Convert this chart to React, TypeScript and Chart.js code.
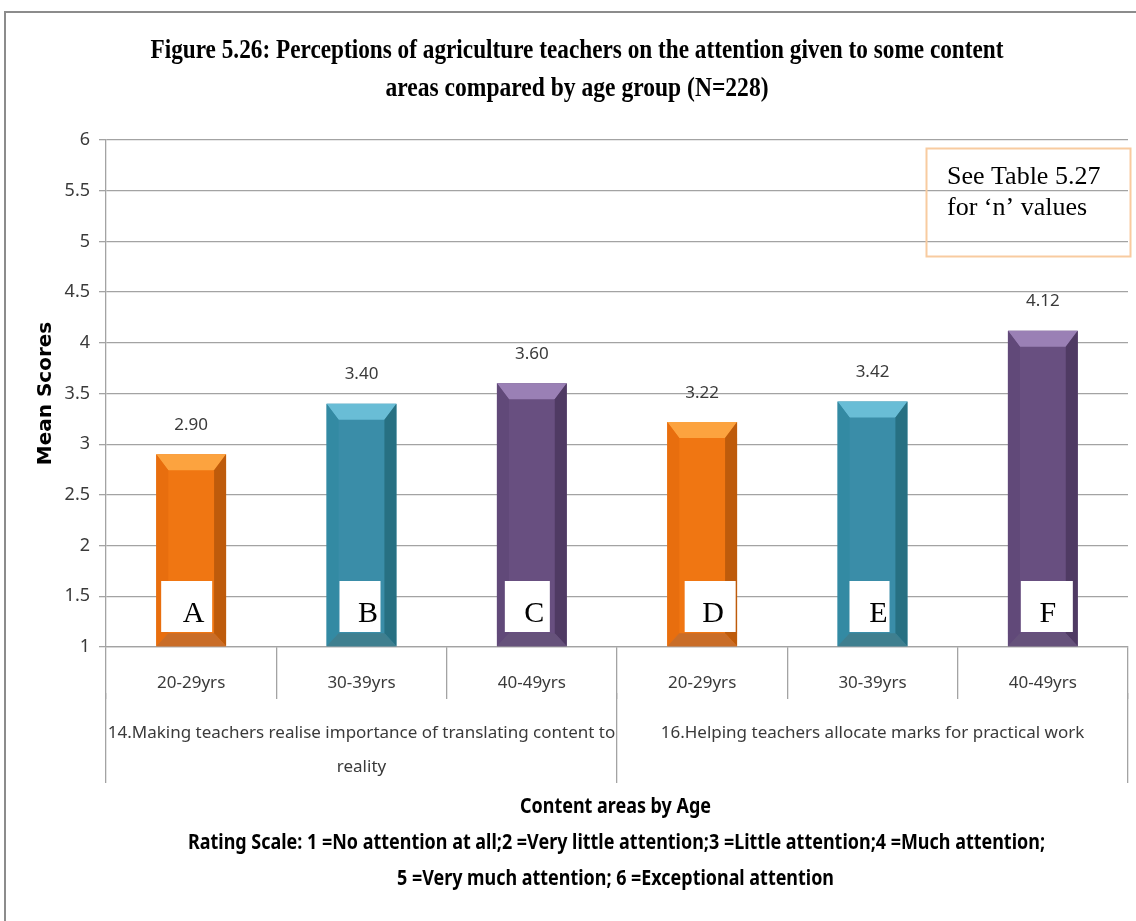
import React, { useEffect, useRef } from 'react';
import { Chart, registerables } from 'chart.js';

Chart.register(...registerables);

// ---------- data ----------
const ageLabels = ['20-29yrs', '30-39yrs', '40-49yrs', '20-29yrs', '30-39yrs', '40-49yrs'];
const groupLabels = [
  ['14.Making teachers realise importance of translating content to', 'reality'],
  ['16.Helping teachers allocate marks for practical work'],
];
const meanScores = [2.9, 3.4, 3.6, 3.22, 3.42, 4.12];
const barLetters = ['A', 'B', 'C', 'D', 'E', 'F'];
const titleLines = [
  'Figure 5.26: Perceptions of agriculture teachers on the attention given to some content',
  'areas compared by age group (N=228)',
];
const footerLines = [
  'Content areas by Age',
  'Rating Scale: 1 =No attention at all;2 =Very little attention;3 =Little attention;4 =Much attention;',
  '5 =Very much attention; 6 =Exceptional attention',
];
const noteLines = ['See Table 5.27', 'for \u2018n\u2019 values'];
const yAxisTitle = 'Mean Scores';
const yMin = 1;
const yMax = 6;
const yStep = 0.5;

// ---------- styles ----------
const palettes = [
  { main: '#F07612', top: '#FCA33F', left: '#E86E0E', right: '#BE5B0B', bottom: '#C96D28' },
  { main: '#3A8DA8', top: '#69BDD6', left: '#338AA3', right: '#277082', bottom: '#3F7F8F' },
  { main: '#684F80', top: '#9A80B5', left: '#614979', right: '#4F3A63', bottom: '#66527B' },
];
const sans = "'Noto Sans', 'Open Sans', sans-serif";
const serif = "'Liberation Serif', 'Times New Roman', serif";
const gridColor = '#A3A3A3';
const textColor = '#3A3A3A';

const titleLayout = [
  { width: 853, cx: 577, base: 58 },
  { width: 383, cx: 577, base: 96 },
];
const footerLayout = [
  { width: 191, cx: 615.5, base: 813 },
  { width: 857, cx: 616.5, base: 849 },
  { width: 437, cx: 615.5, base: 885 },
];
const letterBoxLayout = [
  { dx: -4.5, w: 51, tx: 7 },
  { dx: -1.5, w: 41, tx: 8 },
  { dx: -4.5, w: 45, tx: 7 },
  { dx: 8, w: 51, tx: 3 },
  { dx: -3, w: 40, tx: 9 },
  { dx: 4, w: 52, tx: 1 },
];

function fitText(ctx: CanvasRenderingContext2D, text: string, cx: number, base: number, width: number) {
  const m = ctx.measureText(text).width;
  const s = width / m;
  ctx.save();
  ctx.translate(cx, base);
  ctx.scale(s, 1);
  ctx.textAlign = 'center';
  ctx.textBaseline = 'alphabetic';
  ctx.fillText(text, 0, 0);
  ctx.restore();
}

const decorPlugin = {
  id: 'decor',
  afterDatasetsDraw(chart: any) {
    const ctx: CanvasRenderingContext2D = chart.ctx;
    const meta = chart.getDatasetMeta(0);
    const area = chart.chartArea;
    meta.data.forEach((bar: any, i: number) => {
      const { x, y, base, width } = bar.getProps(['x', 'y', 'base', 'width'], true);
      const p = palettes[i % palettes.length];
      const l = x - width / 2;
      const r = x + width / 2;
      const t = y;
      const b = Math.min(base, area.bottom);
      const bs = 12;
      const bt = 16;
      const bb = 13;
      const poly = (pts: number[][], color: string) => {
        ctx.beginPath();
        ctx.moveTo(pts[0][0], pts[0][1]);
        for (let k = 1; k < pts.length; k++) ctx.lineTo(pts[k][0], pts[k][1]);
        ctx.closePath();
        ctx.fillStyle = color;
        ctx.fill();
      };
      ctx.save();
      poly([[l, t], [r, t], [r - bs, t + bt], [l + bs, t + bt]], p.top);
      poly([[r, t], [r, b], [r - bs, b - bb], [r - bs, t + bt]], p.right);
      poly([[l, t], [l + bs, t + bt], [l + bs, b - bb], [l, b]], p.left);
      poly([[l, b], [l + bs, b - bb], [r - bs, b - bb], [r, b]], p.bottom);
      ctx.restore();

      // value label
      ctx.save();
      ctx.font = `17px ${sans}`;
      ctx.fillStyle = textColor;
      ctx.textAlign = 'center';
      ctx.textBaseline = 'middle';
      ctx.fillText(meanScores[i].toFixed(2), x, t - 29);
      ctx.restore();

      // letter box
      const lb = letterBoxLayout[i];
      const bw = lb.w;
      const bx = x + lb.dx - bw / 2;
      const by = area.bottom - 66;
      ctx.save();
      ctx.fillStyle = '#FFFFFF';
      ctx.fillRect(bx, by, bw, 51);
      ctx.font = `30px ${serif}`;
      ctx.fillStyle = '#000000';
      ctx.textAlign = 'center';
      ctx.textBaseline = 'alphabetic';
      ctx.fillText(barLetters[i], bx + bw / 2 + lb.tx, by + 41);
      ctx.restore();
    });
  },
  afterDraw(chart: any) {
    const ctx: CanvasRenderingContext2D = chart.ctx;
    ctx.save();
    // outer frame
    ctx.strokeStyle = '#8C8C8C';
    ctx.lineWidth = 2;
    ctx.strokeRect(5, 12, 1200, 1000);
    // title
    ctx.fillStyle = '#000000';
    ctx.font = `bold 28px ${serif}`;
    titleLines.forEach((t, i) => fitText(ctx, t, titleLayout[i].cx, titleLayout[i].base, titleLayout[i].width));
    // footer
    ctx.font = `bold 21px ${sans}`;
    footerLines.forEach((t, i) => fitText(ctx, t, footerLayout[i].cx, footerLayout[i].base, footerLayout[i].width));
    // note box
    ctx.strokeStyle = '#F8CBA0';
    ctx.lineWidth = 2;
    ctx.strokeRect(926.5, 148.5, 204, 108);
    ctx.font = `26px ${serif}`;
    ctx.textAlign = 'left';
    ctx.textBaseline = 'alphabetic';
    ctx.fillText(noteLines[0], 947, 184);
    ctx.fillText(noteLines[1], 947, 215);
    ctx.restore();
  },
};

export default function App() {
  const ref = useRef<HTMLCanvasElement>(null);
  useEffect(() => {
    if (!ref.current) return;
    const chart = new Chart(ref.current, {
      type: 'bar',
      data: {
        labels: ageLabels,
        datasets: [
          {
            data: meanScores,
            base: yMin,
            backgroundColor: meanScores.map((_, i) => palettes[i % palettes.length].main),
            borderWidth: 0,
            categoryPercentage: 1,
            barPercentage: 0.41,
            xAxisID: 'x',
            yAxisID: 'y',
          } as any,
        ],
      },
      options: {
        responsive: false,
        animation: false,
        devicePixelRatio: 1,
        layout: { padding: { top: 140, right: 8, bottom: 128, left: 0 } },
        plugins: {
          legend: { display: false },
          title: { display: false },
          tooltip: { enabled: false },
        },
        scales: {
          x: {
            type: 'category',
            position: 'bottom',
            weight: 0,
            offset: true,
            grid: {
              offset: true,
              drawOnChartArea: false,
              tickLength: 52,
              color: gridColor,
              lineWidth: 1.3,
            },
            border: { display: true, color: gridColor, width: 1.3 },
            ticks: {
              padding: -26,
              color: textColor,
              font: { family: sans, size: 17 },
              maxRotation: 0,
              autoSkip: false,
            },
            afterFit: (s: any) => {
              s.height = 46;
            },
          },
          x2: {
            type: 'category',
            position: 'bottom',
            weight: 1,
            labels: groupLabels as any,
            offset: true,
            grid: {
              offset: true,
              drawOnChartArea: false,
              tickLength: 90,
              color: gridColor,
              lineWidth: 1.3,
            },
            border: { display: false },
            ticks: {
              padding: -66,
              color: textColor,
              font: { family: sans, size: 17, lineHeight: 1.95 },
              maxRotation: 0,
              autoSkip: false,
            },
            afterFit: (s: any) => {
              s.height = 100;
            },
          },
          y: {
            type: 'linear',
            min: yMin,
            max: yMax,
            ticks: {
              stepSize: yStep,
              padding: 9,
              color: textColor,
              font: { family: sans, size: 18 },
              callback: (v: any) => String(v),
            },
            grid: { color: gridColor, lineWidth: 1.3, tickLength: 7 },
            border: { display: true, color: gridColor, width: 1.3 },
            title: {
              display: true,
              text: yAxisTitle,
              color: '#000000',
              font: { family: "'DejaVu Sans', 'Open Sans', sans-serif", size: 20, weight: 'bold' },
              padding: { top: 34, bottom: 0 },
            },
            afterFit: (s: any) => {
              s.width = 106;
            },
          },
        },
      },
      plugins: [decorPlugin],
    });
    return () => chart.destroy();
  }, []);
  return (
    <div style={{ position: 'absolute', left: 0, top: 0, width: 1136, height: 921, background: '#fff' }}>
      <canvas ref={ref} width={1136} height={921} style={{ display: 'block' }} />
    </div>
  );
}
